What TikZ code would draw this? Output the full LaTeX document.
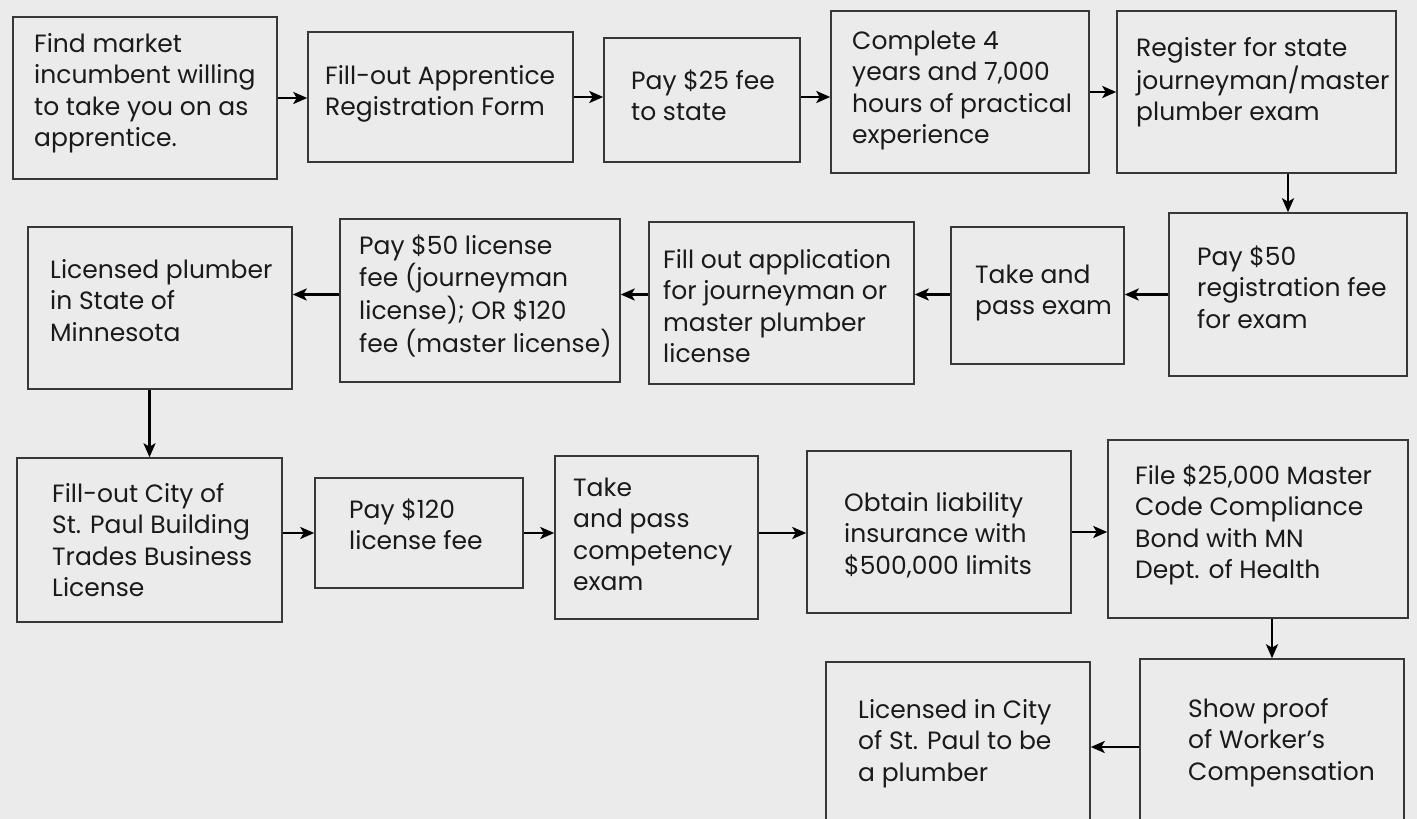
\documentclass[tikz,border=0pt]{standalone}
\usepackage{fontspec}
\setmainfont{Poppins}
\usetikzlibrary{arrows.meta}
\definecolor{bgc}{HTML}{EBEBEB}
\definecolor{bdc}{HTML}{383838}
\definecolor{txc}{HTML}{1A1A1A}
\tikzset{
  box/.style={draw=bdc, line width=1.5pt, fill=bgc, inner sep=0pt},
  lbl/.style={anchor=base west, inner sep=0pt, text=txc, font=\fontsize{25}{31.6}\selectfont},
  arr/.style={draw=black, line width=2.5pt, -{Stealth[length=14pt,width=12pt,inset=3.5pt]}}
}
\newcommand{\boxnode}[5]{\node[box, minimum width={(#4-#2)*1pt}, minimum height={(#5-#3)*1pt}] (#1) at ({(#2+#4)/2},{(#3+#5)/2}) {};}
\newcommand{\lbltext}[4]{\node[lbl] (#1) at (#2,#3) {\begin{tabular}[t]{@{}l@{}}#4\end{tabular}};}
\begin{document}
\begin{tikzpicture}[x=1pt,y=-1pt]
\useasboundingbox (0,0) rectangle (1417,819);
\clip (0,0) rectangle (1417,819);
\fill[bgc] (0,0) rectangle (1417,819);
% boxes
\boxnode{b1}{13}{17}{277}{179}
\boxnode{b2}{308}{32}{573}{162}
\boxnode{b3}{604}{38}{800}{162}
\boxnode{b4}{831}{11}{1089}{173}
\boxnode{b5}{1117}{11}{1396}{173}
\boxnode{b6}{1169}{213}{1407}{376}
\boxnode{b7}{951}{227}{1124}{364}
\boxnode{b8}{649}{222}{914}{384}
\boxnode{b9}{340}{219}{620}{382}
\boxnode{b10}{28}{227}{292}{389}
\boxnode{b11}{17}{458}{282}{622}
\boxnode{b12}{315}{478}{523}{588}
\boxnode{b13}{555}{456}{758}{619}
\boxnode{b14}{807}{451}{1071}{613}
\boxnode{b15}{1108}{440}{1408}{618}
\boxnode{b16}{1140}{659}{1404}{835}
\boxnode{b17}{826}{662}{1090}{835}
% texts
\lbltext{t1}{34}{52}{Find market\\incumbent willing\\to take you on as\\apprentice.}
\lbltext{t2}{325}{84}{Fill-out Apprentice\\Registration Form}
\lbltext{t3}{631}{89}{Pay \$25 fee\\to state}
\lbltext{t4}{852}{49}{Complete 4\\years and 7,000\\hours of practical\\experience}
\lbltext{t5}{1136}{56}{Register for state\\journeyman/master\\plumber exam}
\lbltext{t6}{1197}{265}{Pay \$50\\registration fee\\for exam}
\lbltext{t7}{975}{283}{Take and\\pass exam}
\lbltext{t8}{663}{268}{Fill out application\\for journeyman or\\master plumber\\license}
\lbltext{t9}{359}{254}{Pay \$50 license\\fee (journeyman\\license); OR \$120\\fee (master license)}
\lbltext{t10}{50}{278}{Licensed plumber\\in State of\\Minnesota}
\lbltext{t11}{52}{502}{Fill-out City of\\St. Paul Building\\Trades Business\\License}
\lbltext{t12}{349}{518}{Pay \$120\\license fee}
\lbltext{t13}{573}{496}{Take\\and pass\\competency\\exam}
\lbltext{t14}{844}{511}{Obtain liability\\insurance with\\\$500,000 limits}
\lbltext{t15}{1135}{484}{File \$25,000 Master\\Code Compliance\\Bond with MN\\Dept. of Health}
\lbltext{t16}{1188}{717}{Show proof\\of Worker’s\\Compensation}
\lbltext{t17}{858}{718}{Licensed in City\\of St. Paul to be\\a plumber}
% connectors
\draw[arr] (b1.east) -- (b1.east -| b2.west);
\draw[arr] (b2.east) -- (b2.east -| b3.west);
\draw[arr] (b2.east -| b3.east) -- (b2.east -| b4.west);
\draw[arr] (b4.east) -- (b4.east -| b5.west);
\draw[arr] (b5.south -| b6.north) -- (b6.north);
\draw[arr] (b6.west) -- (b6.west -| b7.east);
\draw[arr] (b6.west -| b7.west) -- (b6.west -| b8.east);
\draw[arr] (b6.west -| b8.west) -- (b6.west -| b9.east);
\draw[arr] (b6.west -| b9.west) -- (b6.west -| b10.east);
\draw[arr] (b10.south -| b11.north) -- (b11.north);
\draw[arr] (b12.west -| b11.east) -- (b12.west);
\draw[arr] (b12.east) -- (b12.east -| b13.west);
\draw[arr] (b12.east -| b13.east) -- (b12.east -| b14.west);
\draw[arr] (b14.east) -- (b14.east -| b15.west);
\draw[arr] (b15.south -| b16.north) -- (b16.north);
\draw[arr] (b16.west) -- (b16.west -| b17.east);
\end{tikzpicture}
\end{document}
